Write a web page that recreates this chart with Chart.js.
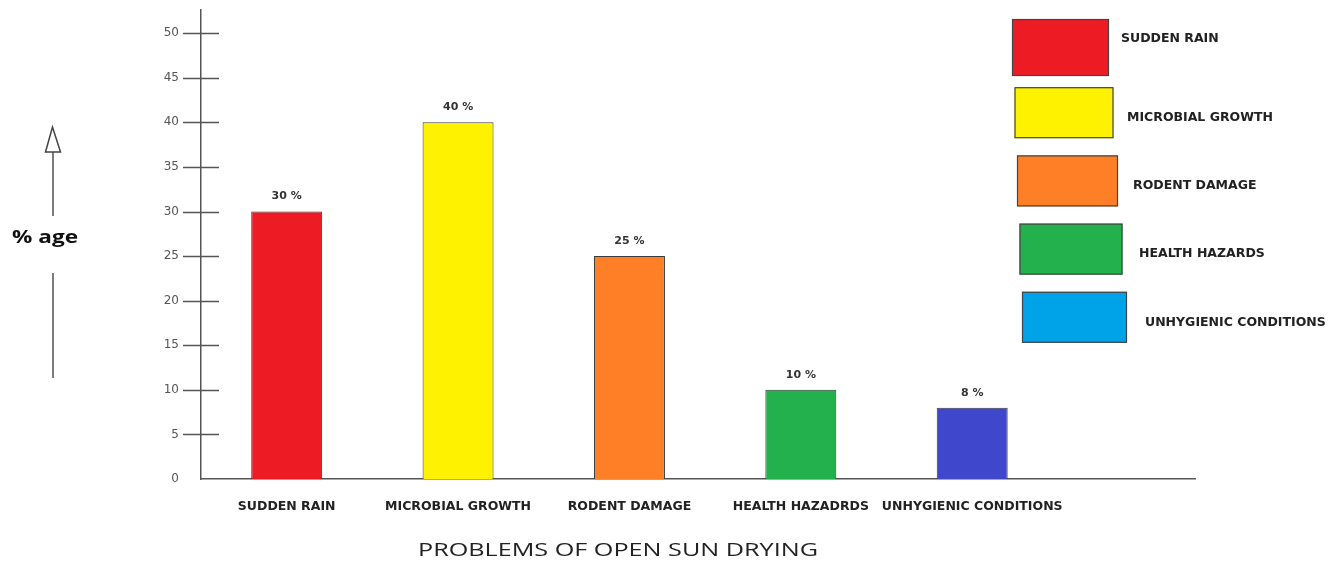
<!DOCTYPE html>
<html>
<head>
<meta charset="utf-8">
<script src="https://cdn.jsdelivr.net/npm/chart.js@4.4.1/dist/chart.umd.min.js"></script>
<style>
  html, body { margin: 0; padding: 0; background: #ffffff; }
  #wrap { width: 1340px; height: 562px; }
  canvas { display: block; }
</style>
</head>
<body>
<div id="wrap"><canvas id="chart" width="1340" height="562"></canvas></div>
<script>
// Problems of open sun drying, share of cases in percent
const categories = ['SUDDEN RAIN', 'MICROBIAL GROWTH', 'RODENT DAMAGE', 'HEALTH HAZADRDS', 'UNHYGIENIC CONDITIONS'];
const legendNames = ['SUDDEN RAIN', 'MICROBIAL GROWTH', 'RODENT DAMAGE', 'HEALTH HAZARDS', 'UNHYGIENIC CONDITIONS'];
const percentages = [30, 40, 25, 10, 8];
const barColors = ['#ED1C24', '#FFF200', '#FF7F27', '#22B14C', '#3F48CC'];
const legendColors = ['#ED1C24', '#FFF200', '#FF7F27', '#22B14C', '#00A2E8'];
const yTickStep = 5;
const yTickMax = 50;
const axisTitle = 'PROBLEMS OF OPEN SUN DRYING';
const yCaption = '% age';

const AXIS_COLOR = '#555555';
const LABEL_FONT = 'DejaVu Sans';

// Cross-shaped tick marks on the value axis
const yTickMarks = {
  id: 'yTickMarks',
  afterDraw(chart) {
    const ys = chart.scales.y, area = chart.chartArea, c = chart.ctx;
    c.save();
    c.strokeStyle = AXIS_COLOR;
    c.lineWidth = 1.3;
    ys.ticks.forEach(t => {
      if (t.value === 0) return;
      const py = Math.round(ys.getPixelForValue(t.value)) + 0.5;
      c.beginPath();
      c.moveTo(area.left - 18, py);
      c.lineTo(area.left + 18, py);
      c.stroke();
    });
    c.restore();
  }
};

// "NN %" above each bar
const barValueLabels = {
  id: 'barValueLabels',
  afterDatasetsDraw(chart) {
    const c = chart.ctx;
    const meta = chart.getDatasetMeta(0);
    c.save();
    c.font = 'bold 11px "' + LABEL_FONT + '"';
    c.fillStyle = '#333333';
    c.textAlign = 'center';
    c.textBaseline = 'middle';
    meta.data.forEach((bar, i) => {
      c.fillText(percentages[i] + ' %', bar.x, bar.y - 15);
    });
    c.restore();
  }
};

// Colour key stacked on the right
const sideKey = {
  id: 'sideKey',
  afterDraw(chart) {
    const c = chart.ctx;
    c.save();
    c.font = 'bold 12.5px "' + LABEL_FONT + '"';
    c.textBaseline = 'middle';
    c.textAlign = 'left';
    legendNames.forEach((name, i) => {
      const bx = 1012 + i * 2.5;
      const by = 19 + i * 68.2;
      const bw = 97 + i * 2;
      const bh = i === 0 ? 57 : 51;
      c.fillStyle = legendColors[i];
      c.fillRect(bx, by, bw, bh);
      c.strokeStyle = '#444444';
      c.lineWidth = 1.2;
      c.strokeRect(bx + 0.5, by + 0.5, bw - 1, bh - 1);
      c.fillStyle = '#222222';
      c.fillText(name, bx + bw + 12 + i * 1.5, i === 0 ? by + 20 : by + bh / 2 + 5);
    });
    c.restore();
  }
};

// Wide caption text helper
function wideText(c, text, font, left, cy, width) {
  c.save();
  c.font = font;
  c.textBaseline = 'middle';
  c.textAlign = 'left';
  const w = c.measureText(text).width;
  c.translate(left, cy);
  c.scale(width / w, 1);
  c.fillText(text, 0, 0);
  c.restore();
}

// Axis captions: category title below, "% age" with upward arrow on the left
const captions = {
  id: 'captions',
  afterDraw(chart) {
    const c = chart.ctx;
    c.save();
    c.fillStyle = '#222222';
    wideText(c, axisTitle, '18px "Open Sans"', 418, 551, 400);
    c.fillStyle = '#111111';
    wideText(c, yCaption, 'bold 18px "Open Sans"', 12, 238, 66);

    c.strokeStyle = '#6f6f6f';
    c.lineWidth = 1.8;
    c.beginPath();
    c.moveTo(53, 152); c.lineTo(53, 216);
    c.moveTo(53, 273); c.lineTo(53, 378);
    c.stroke();
    c.lineWidth = 1.5;
    c.strokeStyle = '#444444';
    c.beginPath();
    c.moveTo(52.5, 127);
    c.lineTo(45.5, 152);
    c.lineTo(60.5, 152);
    c.closePath();
    c.fillStyle = '#ffffff';
    c.fill();
    c.stroke();
    c.restore();
  }
};

new Chart(document.getElementById('chart'), {
  type: 'bar',
  data: {
    datasets: [{
      data: percentages.map((v, i) => ({ x: i, y: v })),
      backgroundColor: barColors,
      borderColor: '#3a3a3a',
      borderWidth: 1,
      barPercentage: 0.414,
      categoryPercentage: 1
    }]
  },
  options: {
    responsive: false,
    animation: false,
    devicePixelRatio: 1,
    layout: { padding: { top: 10, right: 145, bottom: 0, left: 0 } },
    plugins: {
      legend: { display: false },
      tooltip: { enabled: false },
      title: { display: false }
    },
    scales: {
      x: {
        type: 'linear',
        offset: false,
        min: -0.5,
        max: 5.3,
        afterFit(s) { s.height = 83; s.paddingLeft = 0; s.paddingRight = 0; },
        grid: { display: false, drawTicks: false, offset: false },
        border: { display: true, color: AXIS_COLOR, width: 1.5 },
        ticks: {
          stepSize: 1,
          includeBounds: false,
          autoSkip: false,
          maxRotation: 0,
          minRotation: 0,
          padding: 20,
          color: '#222222',
          font: { family: LABEL_FONT, weight: 'bold', size: 12.5 },
          callback: v => (categories[v] !== undefined ? categories[v] : '')
        }
      },
      y: {
        min: 0,
        max: 52.6,
        afterFit(s) { s.width = 201; s.paddingTop = 0; s.paddingBottom = 0; },
        grid: { display: false, drawTicks: false },
        border: { display: true, color: AXIS_COLOR, width: 1.5 },
        ticks: {
          stepSize: yTickStep,
          includeBounds: false,
          padding: 22,
          color: '#555555',
          font: { family: LABEL_FONT, size: 12 },
          callback: v => (v <= yTickMax ? String(v) : '')
        }
      }
    }
  },
  plugins: [yTickMarks, barValueLabels, sideKey, captions]
});
</script>
</body>
</html>
